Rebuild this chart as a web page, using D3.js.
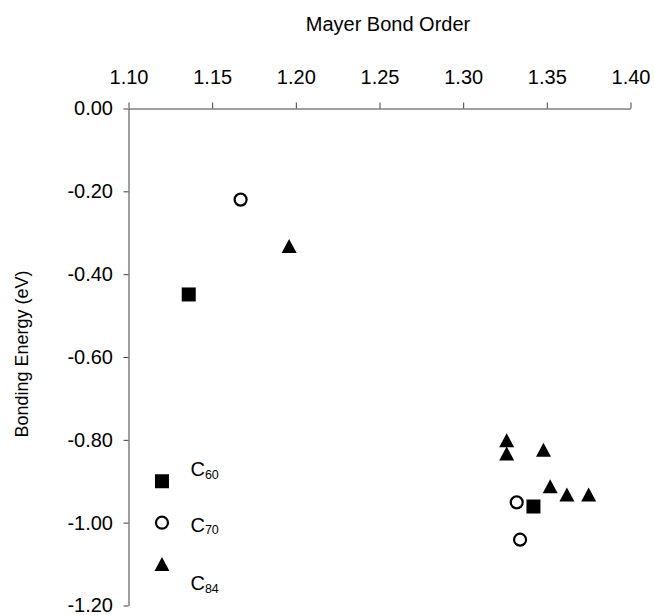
<!DOCTYPE html>
<html>
<head>
<meta charset="utf-8">
<script src="https://cdn.jsdelivr.net/npm/d3@7"></script>
<style>
  html, body { margin: 0; padding: 0; background: #fff; }
  svg { display: block; font-family: Arial, "Liberation Sans", sans-serif; }
</style>
</head>
<body>
<svg id="chart" width="654" height="615"></svg>
<script>
// ---- data ----
const xTicks = [1.10, 1.15, 1.20, 1.25, 1.30, 1.35, 1.40];
const yTicks = [0.00, -0.20, -0.40, -0.60, -0.80, -1.00, -1.20];

const c60X = [1.136, 1.342];
const c60Y = [-0.449, -0.961];

const c70X = [1.167, 1.332, 1.334];
const c70Y = [-0.220, -0.951, -1.041];

const c84X = [1.196, 1.326, 1.326, 1.348, 1.352, 1.362, 1.375];
const c84Y = [-0.332, -0.801, -0.833, -0.824, -0.912, -0.932, -0.932];

// legend markers are drawn as points in data space
const legendX = 1.12;
const legendY = [-0.90, -1.00, -1.10];
const legendSub = ["60", "70", "84"];
const legendTextDy = [-5, 9, 26];

const xTitle = "Mayer Bond Order";
const yTitle = "Bonding Energy (eV)";

// ---- drawing ----
const svg = d3.select("#chart");
const x = d3.scaleLinear().domain([1.10, 1.40]).range([128.5, 630.5]);
const y = d3.scaleLinear().domain([0, -1.2]).range([108.5, 605.5]);
const FS = 20;
const fmt = d3.formatLocale({ decimal: ".", thousands: ",", grouping: [3],
  currency: ["", ""], minus: "-" }).format(".2f");

const gx = svg.append("g").attr("transform", `translate(0,${y(0)})`)
  .call(d3.axisTop(x).tickValues(xTicks).tickFormat(fmt)
    .tickSize(6).tickSizeOuter(0).tickPadding(18.5));
const gy = svg.append("g").attr("transform", `translate(${x(1.10)},0)`)
  .call(d3.axisLeft(y).tickValues(yTicks).tickFormat(fmt)
    .tickSize(5).tickSizeOuter(0).tickPadding(10.5));
[gx, gy].forEach(g => {
  g.selectAll("path.domain").attr("stroke", "#404040").attr("stroke-width", 1);
  g.selectAll(".tick line").attr("stroke", "#404040");
  g.selectAll(".tick text").attr("font-size", FS).attr("fill", "#000")
    .attr("font-family", "Arial, 'Liberation Sans', sans-serif");
});
svg.append("text").attr("x", 388).attr("y", 31)
  .attr("text-anchor", "middle").attr("font-size", FS).text(xTitle);
svg.append("text")
  .attr("transform", `translate(28,${(y(0) + y(-1.2)) / 2 - 3}) rotate(-90)`)
  .attr("text-anchor", "middle").attr("font-size", 18).text(yTitle);

const sq = 14;
function drawSquares(xs, ys) {
  svg.append("g").selectAll("rect").data(xs).join("rect")
    .attr("x", (d) => x(d) - sq / 2)
    .attr("y", (d, i) => y(ys[i]) - sq / 2)
    .attr("width", sq).attr("height", sq).attr("fill", "#000");
}
function drawCircles(xs, ys) {
  svg.append("g").selectAll("circle").data(xs).join("circle")
    .attr("cx", (d) => x(d)).attr("cy", (d, i) => y(ys[i]))
    .attr("r", 6).attr("fill", "#fff").attr("stroke", "#000").attr("stroke-width", 2.2);
}
function drawTriangles(xs, ys) {
  const w = 15, h = 14;
  svg.append("g").selectAll("path").data(xs).join("path")
    .attr("d", (d, i) => {
      const cx = x(d), cy = y(ys[i]);
      return `M${cx},${cy - h / 2}L${cx + w / 2},${cy + h / 2}L${cx - w / 2},${cy + h / 2}Z`;
    })
    .attr("fill", "#000");
}
drawSquares(c60X, c60Y);
drawCircles(c70X, c70Y);
drawTriangles(c84X, c84Y);

// legend
drawSquares([legendX], [legendY[0]]);
drawCircles([legendX], [legendY[1]]);
drawTriangles([legendX], [legendY[2]]);
legendY.forEach((v, i) => {
  const t = svg.append("text")
    .attr("x", x(legendX) + 28.5).attr("y", y(v) + legendTextDy[i])
    .attr("font-size", FS);
  t.append("tspan").text("C");
  t.append("tspan").attr("font-size", 12.5).attr("dy", 2.5).text(legendSub[i]);
});
</script>
</body>
</html>
